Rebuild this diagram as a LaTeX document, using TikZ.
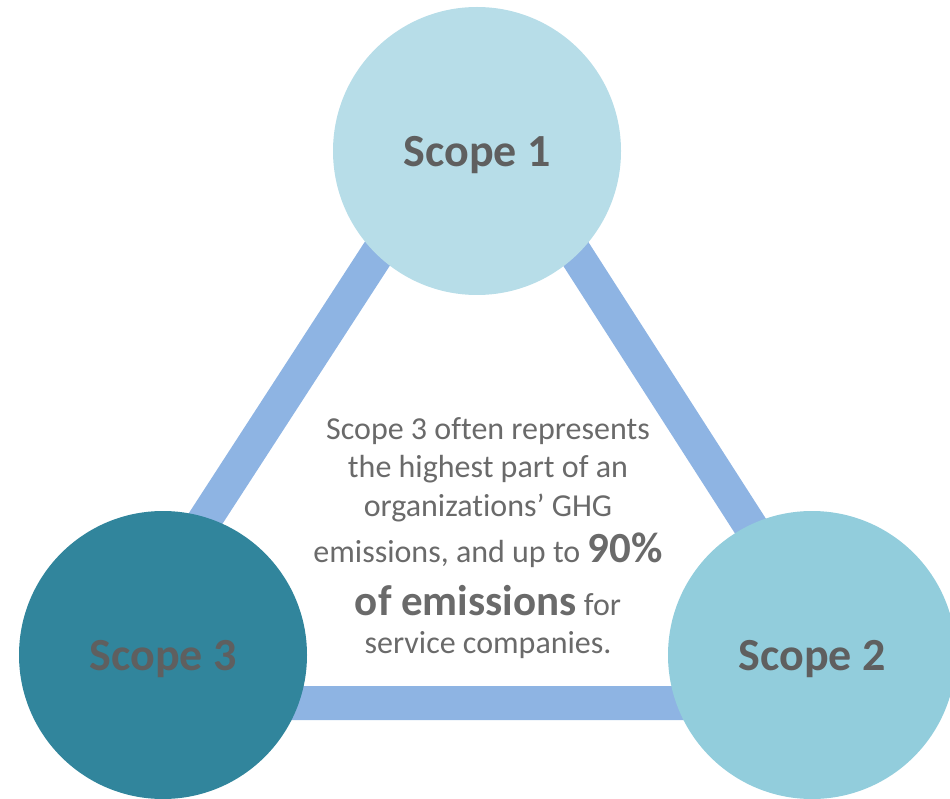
\documentclass[tikz,border=0pt]{standalone}
\usepackage{fontspec}
\setmainfont{Carlito}[Ligatures=NoCommon]
\usetikzlibrary{positioning}

\definecolor{scopeeins}{HTML}{B7DDE8}
\definecolor{scopezwei}{HTML}{92CDDC}
\definecolor{scopedrei}{HTML}{31859C}
\definecolor{balkenblau}{HTML}{8EB4E3}
\definecolor{labelgrau}{HTML}{5F5F5F}
\definecolor{textgrau}{HTML}{6A6A6A}

\begin{document}
\begin{tikzpicture}[x=1pt, y=-1pt,
    scopeball/.style={circle, minimum size=288pt, inner sep=0pt, text depth=0pt,
        font=\fontsize{46}{50}\selectfont\bfseries, text=labelgrau},
    balken/.style={line width=34pt, draw=balkenblau, line join=round}]
    \useasboundingbox (0,0) rectangle (950,799);
    \clip (0,0) rectangle (950,799);

    % Dreieck hinter den Kreisen
    \coordinate (ecke1) at (477,100);
    \coordinate (ecke2) at (864,703);
    \coordinate (ecke3) at (86,703);
    \draw[balken] (ecke1) -- (ecke2) -- (ecke3) -- cycle;

    % Kreise
    \node[scopeball, fill=scopeeins] (s1) at (477,151) {Scope 1};
    \node[scopeball, fill=scopezwei] (s2) at (812,655) {Scope 2};
    \node[scopeball, fill=scopedrei] (s3) at (163,655) {Scope 3};

    % Text in der Mitte
    \node[align=center, text=textgrau, font=\fontsize{32}{38.5}\selectfont] (info) at (488,538)
        {Scope 3 often represents\\
         the highest part of an\\
         organizations’ GHG\\[8pt]
         emissions, and up to {\bfseries\fontsize{43}{46}\selectfont 90\%}\\[14pt]
         {\bfseries\fontsize{43}{46}\selectfont of emissions} for\\
         service companies.};
\end{tikzpicture}
\end{document}
